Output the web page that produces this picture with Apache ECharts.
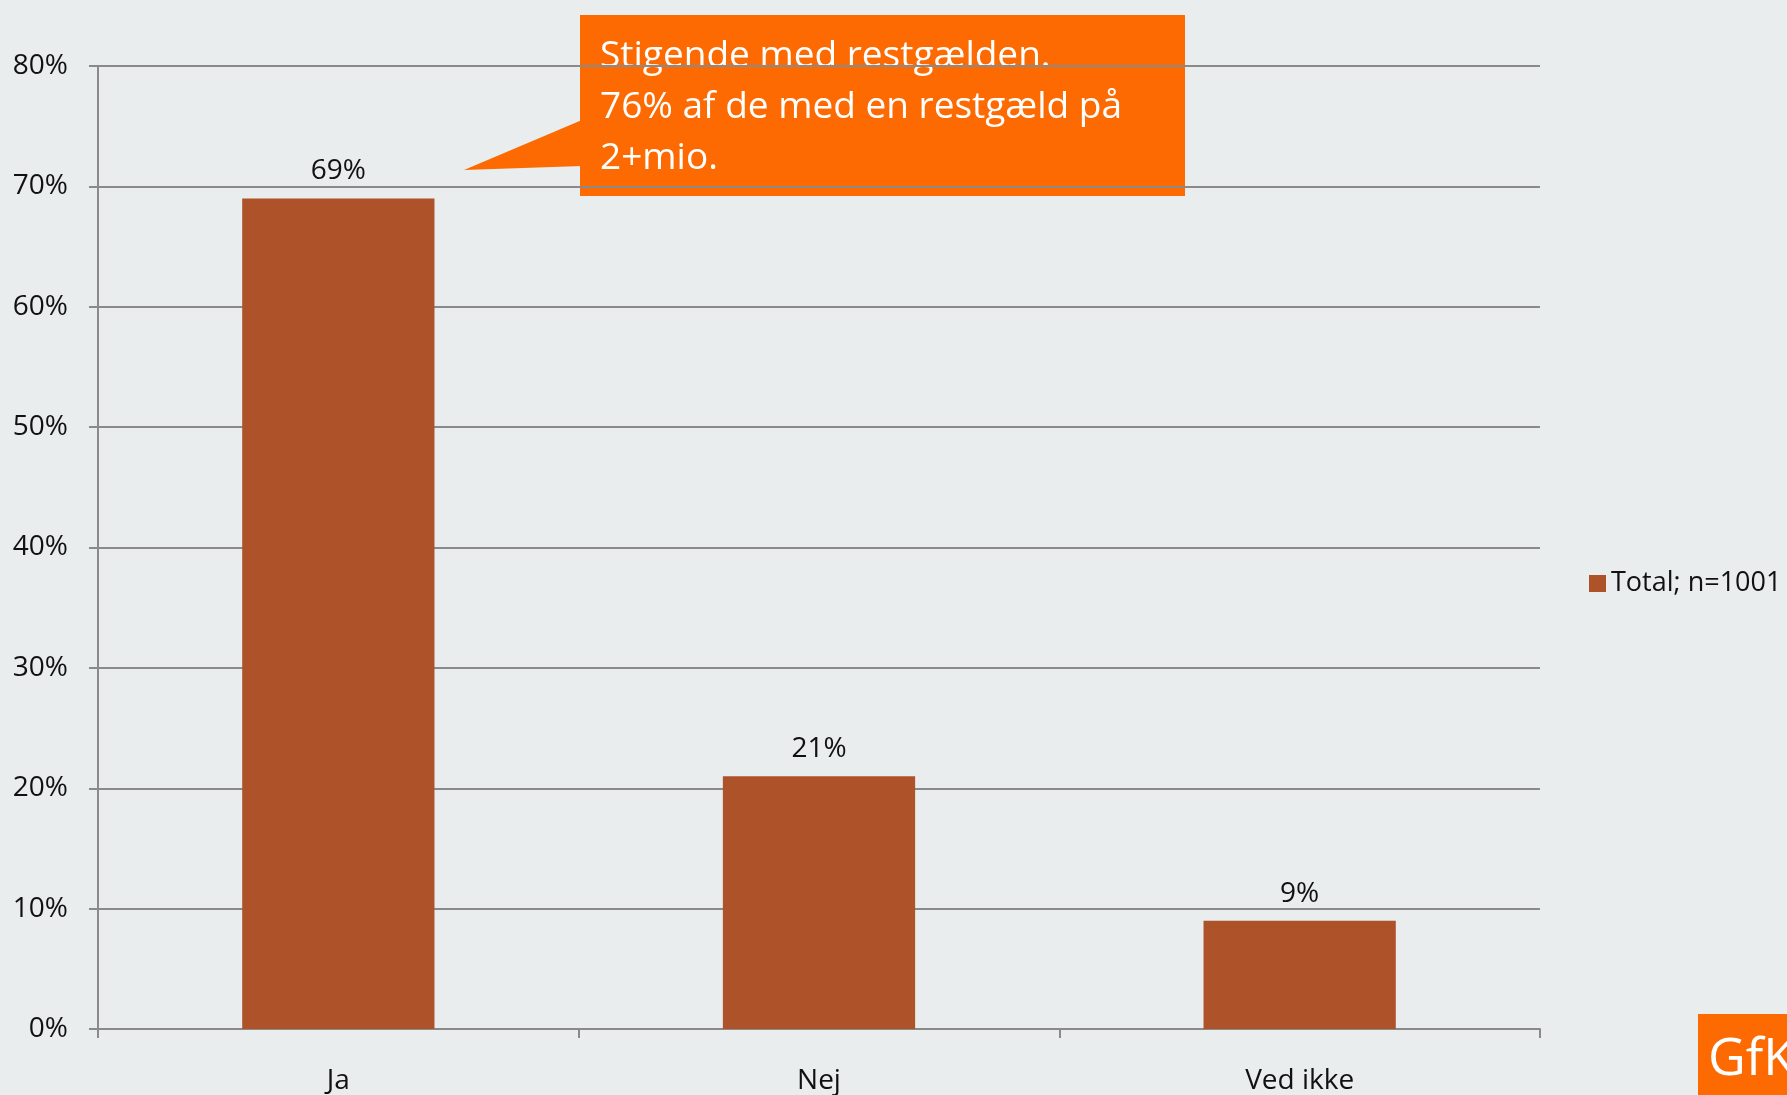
<!DOCTYPE html>
<html>
<head>
<meta charset="utf-8">
<script src="https://cdn.jsdelivr.net/npm/echarts@6/dist/echarts.min.js"></script>
<style>
  html, body { margin: 0; padding: 0; background: #e9eded; }
  #chart { width: 1787px; height: 1095px; }
</style>
</head>
<body>
<div id="chart"></div>
<script>
// chart data
var categories = ['Ja', 'Nej', 'Ved ikke'];
var totalValues = [69, 21, 9];
var seriesName = 'Total; n=1001';
var calloutLines = ['Stigende med restgælden.', '76% af de med en restgæld på', '2+mio.'];

var font = '"Open Sans", "Noto Sans", sans-serif';
var orange = '#fd6a02';

var chart = echarts.init(document.getElementById('chart'));
chart.setOption({
    backgroundColor: '#e9eded',
    animation: false,
    textStyle: { fontFamily: font },
    grid: { left: 98, right: 247, top: 66, bottom: 65, containLabel: false },
    legend: {
        data: [{ name: seriesName, icon: 'rect' }],
        orient: 'vertical',
        left: 1584,
        top: 565,
        itemWidth: 17,
        itemHeight: 17,
        itemGap: 8,
        textStyle: { fontSize: 27, color: '#111', fontFamily: font }
    },
    xAxis: {
        type: 'category',
        data: categories,
        axisLine: { lineStyle: { color: '#8a8a8a', width: 2 } },
        axisTick: { show: true, length: 9, lineStyle: { color: '#8a8a8a', width: 2 } },
        axisLabel: { fontSize: 28, color: '#111', margin: 38, fontFamily: font }
    },
    yAxis: {
        type: 'value',
        min: 0,
        max: 80,
        interval: 10,
        axisLine: { show: true, lineStyle: { color: '#8a8a8a', width: 2 } },
        axisTick: { show: true, length: 9, lineStyle: { color: '#8a8a8a', width: 2 } },
        splitLine: { lineStyle: { color: '#8a8a8a', width: 2 } },
        axisLabel: { fontSize: 28, color: '#111', margin: 30, formatter: '{value}%', fontFamily: font }
    },
    series: [{
        name: seriesName,
        type: 'bar',
        data: totalValues,
        barWidth: '40%',
        itemStyle: { color: '#ae5229' },
        label: {
            show: true,
            position: 'top',
            distance: 13,
            formatter: '{c}%',
            fontSize: 28,
            color: '#111',
            fontFamily: font
        }
    }],
    graphic: [
        {
            type: 'polygon',
            shape: { points: [[464, 170], [582, 120], [582, 166]] },
            style: { fill: orange }
        },
        {
            type: 'rect',
            shape: { x: 580, y: 15, width: 605, height: 181 },
            style: { fill: orange }
        },
        {
            type: 'text',
            x: 600,
            y: 31,
            style: {
                text: calloutLines.join('\n'),
                fill: '#fff',
                fontSize: 37,
                lineHeight: 51,
                fontFamily: font
            }
        },
        {
            type: 'rect',
            shape: { x: 1698, y: 1014, width: 89, height: 81 },
            style: { fill: orange }
        },
        {
            type: 'text',
            x: 1708,
            y: 1034,
            style: { text: 'GfK', fill: '#fff', fontSize: 52, fontFamily: font }
        }
    ]
});
</script>
</body>
</html>
